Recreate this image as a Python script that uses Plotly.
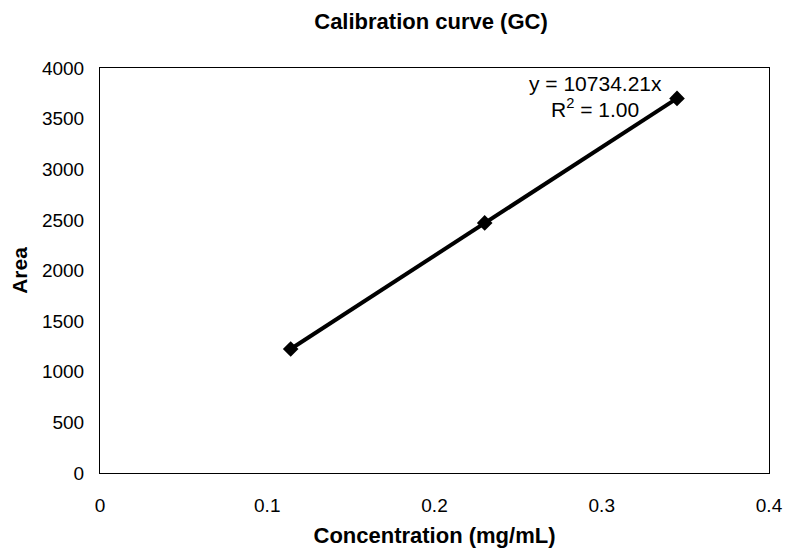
import plotly.graph_objects as go

conc = [0.114, 0.230, 0.345]
area = [1225, 2470, 3700]
x_ticks = [0, 0.1, 0.2, 0.3, 0.4]
x_tick_labels = ["0", "0.1", "0.2", "0.3", "0.4"]
y_ticks = [0, 500, 1000, 1500, 2000, 2500, 3000, 3500, 4000]

font = "Liberation Sans, Arial, sans-serif"

fig = go.Figure()
fig.add_trace(go.Scatter(
    x=conc, y=area, mode="lines+markers",
    line=dict(color="black", width=4),
    marker=dict(color="black", size=12, symbol="diamond"),
    showlegend=False, cliponaxis=False,
))

fig.update_layout(
    width=790, height=555,
    margin=dict(l=100, r=21, t=68, b=82, autoexpand=False),
    paper_bgcolor="white", plot_bgcolor="white",
    font=dict(family=font, size=19, color="black"),
    title=dict(text="<b>Calibration curve (GC)</b>", x=431 / 790, xanchor="center",
               y=1 - 21 / 555, yanchor="middle", font=dict(size=22)),
    xaxis=dict(range=[0, 0.4], tickvals=x_ticks, ticktext=x_tick_labels,
               showgrid=False, zeroline=False, showline=True, linecolor="black",
               linewidth=1, mirror=True, ticks="", ticklen=0,
               ticklabelstandoff=15,
               title=dict(text="<b>Concentration (mg/mL)</b>", standoff=12,
                          font=dict(size=22))),
    yaxis=dict(range=[0, 4000], tickvals=y_ticks,
               showgrid=False, zeroline=False, showline=True, linecolor="black",
               linewidth=1, mirror=True, ticks="", ticklen=0,
               ticklabelstandoff=11,
               title=dict(text="<b>Area</b>", standoff=8, font=dict(size=21))),
)

fig.add_annotation(text="y = 10734.21x", xref="paper", yref="paper",
                   x=(595 - 100) / 669, y=(473 - 83) / 405, showarrow=False,
                   font=dict(size=21), xanchor="center", yanchor="middle")
fig.add_annotation(text="R<sup>2</sup> = 1.00", xref="paper", yref="paper",
                   x=(595 - 100) / 669, y=(473 - 108) / 405, showarrow=False,
                   font=dict(size=21), xanchor="center", yanchor="middle")

fig.write_html("out.html", config={"displayModeBar": False},
               post_script="document.body.style.margin='0';")
